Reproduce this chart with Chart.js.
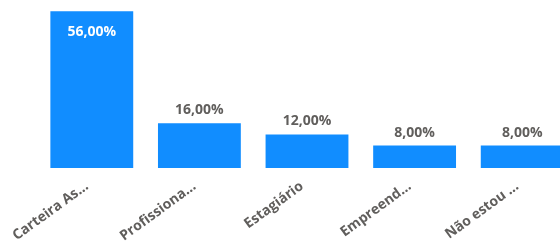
<!DOCTYPE html>
<html>
<head>
<meta charset="utf-8">
<script src="https://cdn.jsdelivr.net/npm/chart.js@4"></script>
<style>
html,body{margin:0;padding:0;background:#fff;overflow:hidden;}
#wrap{position:absolute;left:0;top:0;width:576px;height:241px;}
</style>
</head>
<body>
<div id="wrap"><canvas id="c"></canvas></div>
<script>
const categories = ["Carteira As...", "Profissiona...", "Estagiário", "Empreend...", "Não estou ..."];
const values = [56, 16, 12, 8, 8];
const valueLabels = ["56,00%", "16,00%", "12,00%", "8,00%", "8,00%"];

const TXT = '#605E5C';
const labelPlugin = {
  id: 'vlabels',
  afterDatasetsDraw(chart) {
    const ctx = chart.ctx;
    const meta = chart.getDatasetMeta(0);
    ctx.save();
    ctx.font = 'bold 14px "Open Sans"';
    ctx.textAlign = 'center';
    meta.data.forEach((bar, i) => {
      const h = bar.base - bar.y;
      if (h > 60) {
        ctx.fillStyle = '#ffffff';
        ctx.textBaseline = 'middle';
        ctx.fillText(valueLabels[i], bar.x, bar.y + 21);
      } else {
        ctx.fillStyle = TXT;
        ctx.textBaseline = 'alphabetic';
        ctx.fillText(valueLabels[i], bar.x, bar.y - 9);
      }
    });
    ctx.restore();
  }
};

new Chart(document.getElementById('c'), {
  type: 'bar',
  data: {
    labels: categories,
    datasets: [{
      data: values,
      backgroundColor: '#118DFF',
      categoryPercentage: 1,
      barPercentage: 0.77
    }]
  },
  options: {
    responsive: true,
    maintainAspectRatio: false,
    animation: false,
    layout: { padding: { left: 38, right: 0, top: 0, bottom: 0 } },
    plugins: { legend: { display: false }, tooltip: { enabled: false } },
    scales: {
      x: {
        grid: { display: false, drawTicks: false },
        border: { display: false },
        ticks: {
          color: TXT,
          font: { family: '"Open Sans"', size: 14, weight: 'bold' },
          minRotation: 36, maxRotation: 36,
          autoSkip: false,
          labelOffset: -5,
          padding: 10
        },
        afterFit(s) { s.height = 73; }
      },
      y: {
        display: false,
        min: 0, max: 60
      }
    }
  },
  plugins: [labelPlugin]
});
</script>
</body>
</html>
